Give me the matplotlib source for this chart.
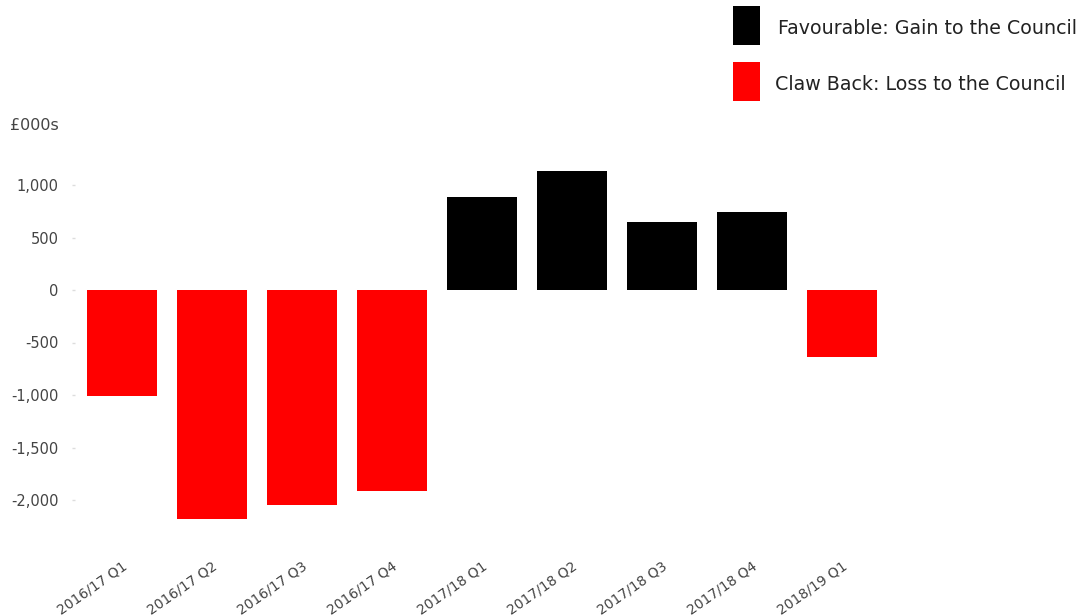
import matplotlib

matplotlib.use('Agg')
import matplotlib.pyplot as plt
from matplotlib.patches import Rectangle

# quarterly variance, in £000s (positive = gain, negative = claw back)
quarters = ['2016/17 Q1', '2016/17 Q2', '2016/17 Q3', '2016/17 Q4',
            '2017/18 Q1', '2017/18 Q2', '2017/18 Q3', '2017/18 Q4', '2018/19 Q1']
variance = [-1010, -2180, -2045, -1915, 885, 1135, 645, 745, -640]

y_ticks = [1000, 500, 0, -500, -1000, -1500, -2000]
legend_labels = ['Favourable: Gain to the Council', 'Claw Back: Loss to the Council']
gain_colour = '#000000'
loss_colour = '#ff0000'

plt.rcParams['font.family'] = ['DejaVu Sans']

W, H = 1090, 616
fig = plt.figure(figsize=(W / 100, H / 100), dpi=100, facecolor='white')

# axes placed in pixel terms: left 75, right 1080, top 150, bottom 530
ax = fig.add_axes([75 / W, (H - 530) / H, (1080 - 75) / W, 380 / H])
ax.set_xlim(-(122 - 75) / 90, (1080 - 122) / 90)
ax.set_ylim(-(530 - 290) / 0.105, (290 - 150) / 0.105)

colours = [gain_colour if v > 0 else loss_colour for v in variance]
ax.bar(range(len(quarters)), variance, width=0.78, color=colours, linewidth=0)

for side in ['top', 'right', 'bottom', 'left']:
    ax.spines[side].set_visible(False)

ax.set_yticks(y_ticks)
ax.set_yticklabels([f'{v:,}' for v in y_ticks])
ax.tick_params(axis='y', length=2, width=1, color='#dddddd', pad=10,
               labelsize=10.5, labelcolor='#444444')

ax.set_xticks(range(len(quarters)))
ax.set_xticklabels(quarters, rotation=35, ha='right', rotation_mode='anchor')
ax.tick_params(axis='x', length=0, pad=21, labelsize=10, labelcolor='#444444')

fig.text(10 / W, 1 - 126 / H, '£000s', fontsize=11.5, color='#444444',
         ha='left', va='center')

# legend drawn as figure-level swatches
for i, (label, colour) in enumerate(zip(legend_labels, [gain_colour, loss_colour])):
    top = 6 + i * 56
    fig.patches.append(Rectangle((733 / W, 1 - (top + 39) / H), 27 / W, 39 / H,
                                 transform=fig.transFigure, facecolor=colour,
                                 edgecolor='none'))
    fig.text((778 - 3 * i) / W, 1 - (top + 22) / H, label, fontsize=13.7,
             color='#222222', ha='left', va='center')

fig.savefig('out.png', dpi=100, facecolor='white')
